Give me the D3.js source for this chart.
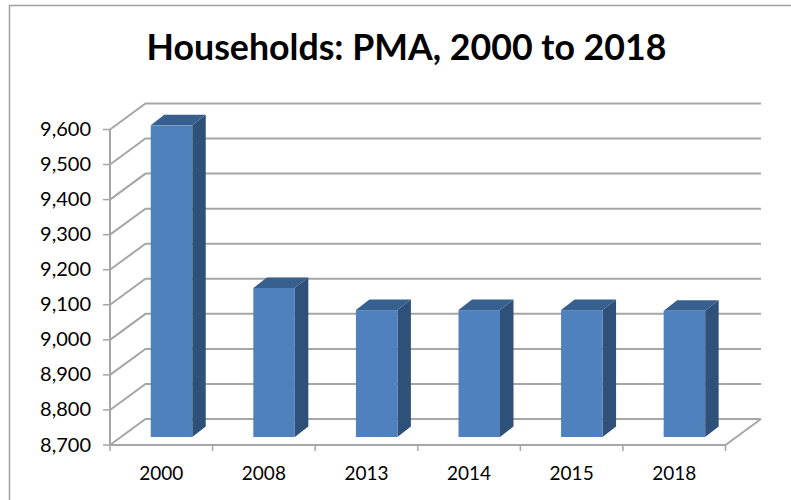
<!DOCTYPE html>
<html>
<head>
<meta charset="utf-8">
<script src="https://cdn.jsdelivr.net/npm/d3@7"></script>
<style>
html,body{margin:0;padding:0;background:#fff;}
svg{display:block;}
text{font-family:Lato,"Open Sans",sans-serif;fill:#000;}
</style>
</head>
<body>
<svg id="chart" width="791" height="500"></svg>
<script>
const chartTitle = "Households: PMA, 2000 to 2018";
const categories = ["2000","2008","2013","2014","2015","2018"];
const households = [9589,9125,9062,9062,9062,9060];
const yTicks = [8700,8800,8900,9000,9100,9200,9300,9400,9500,9600];

const svg = d3.select("#chart");
const W = 791, H = 500;
const frontLeft = 110, frontRight = 725.5, frontBottom = 445, frontTop = 129.5;
const depthX = 35.5, depthY = 26;
const barFrontDX = 10.2, barFrontDY = 8;
const barW = 41.5, barDX = 13.5, barDY = 10.5;
const gridColor = "#a6a6a6";

const x = d3.scaleBand().domain(categories).range([frontLeft, frontRight]);
const y = d3.scaleLinear().domain([8700,9600]).range([frontBottom, frontTop]);

// chart frame
svg.append("path").attr("d", `M9.5,${H}V5.5H${W}`).attr("fill","none").attr("stroke","#a0a0a0").attr("stroke-width",1.5);

// title
svg.append("text").attr("x",406.5).attr("y",59.5).attr("text-anchor","middle")
  .attr("font-size",35.7).attr("font-weight",700).text(chartTitle);

// walls and gridlines
const grid = svg.append("g").attr("fill","none").attr("stroke",gridColor).attr("stroke-width",2);
yTicks.forEach(t => {
  grid.append("path").attr("d", d3.line()([
    [frontLeft, y(t)], [frontLeft+depthX, y(t)-depthY], [frontRight+depthX, y(t)-depthY]
  ]));
});
// left wall edge + floor front + right floor edge
grid.append("path").attr("d", d3.line()([[frontLeft,y(9600)],[frontLeft,y(8700)],[frontRight,y(8700)],[frontRight+depthX,y(8700)-depthY]]));

// value-axis ticks and labels
yTicks.forEach(t => {
  grid.append("line").attr("x1",frontLeft-7).attr("x2",frontLeft).attr("y1",y(t)).attr("y2",y(t)).attr("stroke-width",1.5);
  svg.append("text").attr("x",91).attr("y",y(t)+6.5).attr("text-anchor","end")
    .attr("font-size",20).text(d3.format(",")(t));
});

// category ticks and labels
const catEdges = categories.map(c => x(c)).concat([frontRight]);
catEdges.forEach(e => {
  grid.append("line").attr("x1",e).attr("x2",e).attr("y1",frontBottom).attr("y2",frontBottom+6).attr("stroke-width",1.5);
});
categories.forEach(c => {
  svg.append("text").attr("x",x(c)+x.bandwidth()/2).attr("y",480).attr("text-anchor","middle")
    .attr("font-size",19).text(c);
});

// bars
const bars = svg.append("g").selectAll("g").data(categories.map((c,i)=>({c,v:households[i]}))).join("g");
const bx = d => x(d.c) + (x.bandwidth()-barW)/2 + barFrontDX;
const by = d => y(d.v) - barFrontDY;
const bb = () => y(8700) - barFrontDY;
bars.append("path").attr("fill","#2f5179").attr("d", d => {
  const l = bx(d)+barW, t = by(d), b = bb();
  return `M${l},${t}l${barDX},${-barDY}V${b-barDY}l${-barDX},${barDY}Z`;
});
bars.append("path").attr("fill","#38608f").attr("d", d => {
  const l = bx(d), t = by(d);
  return `M${l},${t}l${barDX},${-barDY}h${barW}l${-barDX},${barDY}Z`;
});
bars.append("rect").attr("x",bx).attr("y",by).attr("width",barW).attr("height",d=>bb()-by(d)).attr("fill","#4f81bd");
</script>
</body>
</html>
